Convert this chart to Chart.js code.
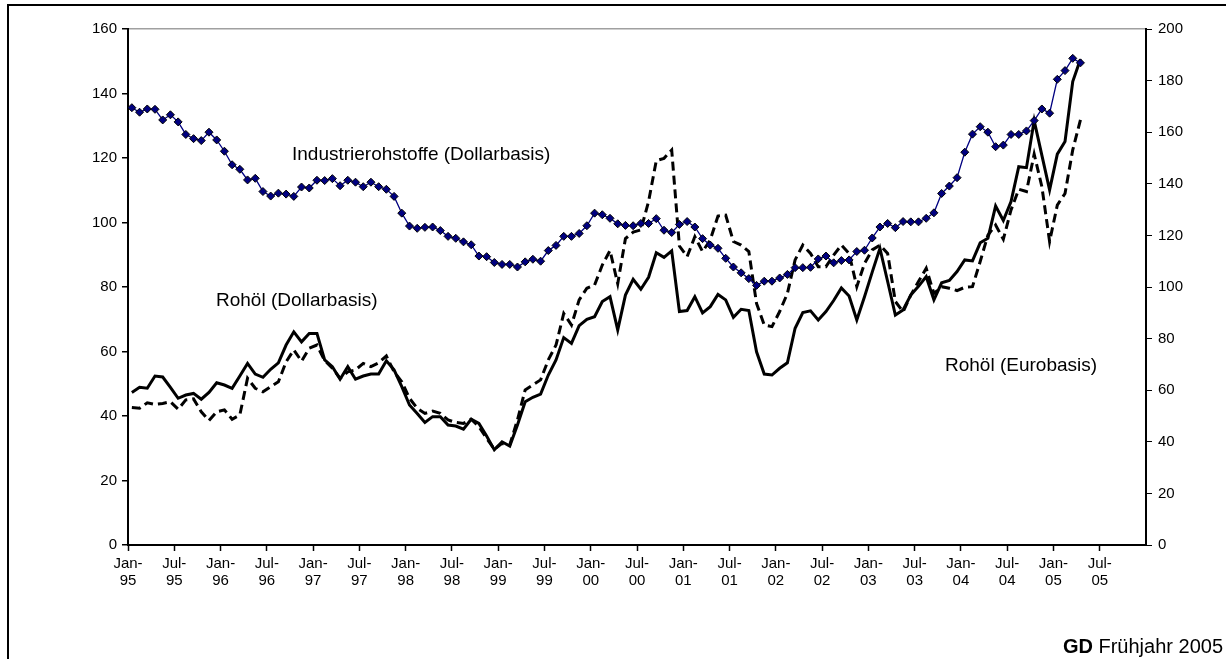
<!DOCTYPE html>
<html>
<head>
<meta charset="utf-8">
<script src="https://cdn.jsdelivr.net/npm/chart.js@4.4.1/dist/chart.umd.min.js"></script>
<style>
    html, body { margin: 0; padding: 0; background: #fff; overflow: hidden; }
    #wrap { position: relative; width: 1226px; height: 659px; }
    #frame {
        position: absolute; left: 7px; top: 4px; width: 1300px; height: 800px;
        border-top: 2px solid #000; border-left: 2px solid #000; pointer-events: none;
    }
    canvas { position: absolute; left: 0; top: 0; }
</style>
</head>
<body>
<div id="wrap">
    <canvas id="chart" width="1226" height="659"></canvas>
    <div id="frame"></div>
</div>
<script>
// Monthly values Jan-95 .. Apr-05 (index, left axis units)
const industrie = [
    135.6, 134.2, 135.2, 135.1, 131.8, 133.4, 131.2, 127.3, 126.0, 125.4, 128.0, 125.6,
    122.1, 117.9, 116.5, 113.2, 113.7, 109.6, 108.2, 109.1, 108.8, 108.1, 111.0, 110.7,
    113.1, 113.0, 113.6, 111.4, 113.1, 112.5, 111.1, 112.5, 111.1, 110.3, 108.1, 102.9,
    98.9, 98.2, 98.5, 98.6, 97.5, 95.7, 95.1, 94.0, 93.1, 89.6, 89.4, 87.6,
    87.0, 87.0, 86.2, 87.8, 88.6, 88.0, 91.3, 92.9, 95.7, 95.7, 96.6, 99.0,
    102.9, 102.4, 101.3, 99.6, 99.1, 99.0, 99.7, 99.7, 101.2, 97.6, 96.9, 99.4,
    100.3, 98.6, 95.0, 93.0, 92.0, 88.9, 86.2, 84.4, 82.6, 80.5, 81.8, 81.8,
    82.8, 83.9, 86.0, 86.0, 86.1, 88.7, 89.6, 87.5, 88.2, 88.4, 91.0, 91.4,
    95.2, 98.6, 99.7, 98.4, 100.3, 100.2, 100.2, 101.3, 103.0, 109.0, 111.3, 113.9,
    121.8, 127.4, 129.7, 128.0, 123.5, 124.0, 127.3, 127.3, 128.4, 131.6, 135.2, 133.9,
    144.4, 147.1, 150.9, 149.5
];
const oilDollar = [
    47.3, 48.9, 48.6, 52.4, 52.1, 48.9, 45.5, 46.5, 47.0, 45.2, 47.3, 50.3,
    49.6, 48.6, 52.4, 56.3, 53.0, 52.0, 54.5, 56.5, 62.0, 66.1, 63.0, 65.6,
    65.6, 57.4, 55.3, 51.4, 55.3, 51.4, 52.4, 53.0, 53.0, 57.1, 54.3, 49.1,
    43.4, 40.8, 38.0, 39.8, 39.8, 37.2, 36.9, 35.9, 39.0, 37.7, 33.8, 29.5,
    32.0, 30.7, 37.2, 44.4, 45.8, 46.8, 52.7, 57.4, 64.3, 62.5, 68.0, 70.0,
    70.8, 75.5, 77.0, 66.7, 77.5, 82.4, 79.3, 83.0, 90.6, 89.2, 91.2, 72.4,
    72.7, 77.0, 72.0, 73.9, 77.7, 76.0, 70.6, 73.1, 72.7, 59.9, 53.0, 52.7,
    54.8, 56.5, 67.2, 72.1, 72.6, 69.8, 72.4, 75.8, 79.7, 77.2, 69.8, 77.0,
    84.6, 92.0, 81.7, 71.3, 72.9, 77.5, 80.2, 83.2, 76.0, 81.3, 82.0, 84.8,
    88.4, 88.1, 93.7, 95.1, 105.1, 100.6, 106.5, 117.3, 117.0, 131.6, 120.8, 110.1,
    121.2, 125.1, 143.7, 150.6
];
const oilEuro = [
    42.6, 42.4, 44.1, 43.6, 43.9, 44.4, 42.1, 45.0, 45.3, 41.3, 38.6, 41.3,
    41.9, 39.0, 40.3, 51.7, 48.6, 47.5, 49.1, 50.6, 56.8, 60.5, 57.0, 61.0,
    62.0, 57.2, 54.8, 51.7, 53.7, 54.3, 56.3, 55.3, 56.5, 58.6, 53.7, 50.6,
    45.5, 42.4, 40.8, 41.5, 40.8, 38.8, 38.0, 37.7, 39.0, 36.7, 33.1, 29.7,
    31.5, 31.0, 38.8, 48.1, 49.6, 51.2, 57.4, 62.0, 71.8, 68.2, 76.0, 79.6,
    80.6, 86.8, 91.3, 81.0, 95.0, 97.0, 97.7, 106.5, 119.2, 119.9, 122.5, 92.7,
    89.4, 95.6, 91.0, 94.6, 102.0, 102.3, 94.1, 93.0, 91.0, 74.9, 68.2, 67.7,
    72.4, 78.0, 88.4, 93.0, 90.4, 86.3, 86.3, 89.9, 93.0, 90.4, 80.1, 87.3,
    91.5, 93.0, 90.4, 75.5, 72.3, 77.5, 81.7, 85.8, 78.0, 80.1, 79.6, 78.9,
    79.9, 80.1, 87.9, 96.1, 99.2, 94.8, 103.9, 110.3, 109.6, 121.2, 111.1, 94.1,
    105.4, 109.0, 122.5, 131.8
];
const xTickLabels = [
    'Jan-95', 'Jul-95', 'Jan-96', 'Jul-96', 'Jan-97', 'Jul-97', 'Jan-98', 'Jul-98',
    'Jan-99', 'Jul-99', 'Jan-00', 'Jul-00', 'Jan-01', 'Jul-01', 'Jan-02', 'Jul-02',
    'Jan-03', 'Jul-03', 'Jan-04', 'Jul-04', 'Jan-05', 'Jul-05'
];
const seriesLabels = ['Industrierohstoffe (Dollarbasis)', 'Rohöl (Dollarbasis)', 'Rohöl (Eurobasis)'];

const FONT = "'Liberation Sans', Arial, sans-serif";

// months sit in the middle of their slot, ticks on the slot borders
const toPoints = (arr) => arr.map((v, i) => ({ x: i + 0.5, y: v }));

// Free-floating series labels and the footer
const textPlugin = {
    id: 'texts',
    afterDraw(chart) {
        const ctx = chart.ctx;
        ctx.save();
        ctx.fillStyle = '#000';
        ctx.textBaseline = 'middle';
        ctx.textAlign = 'left';
        ctx.font = '19px ' + FONT;
        ctx.fillText(seriesLabels[0], 292, 155);
        ctx.fillText(seriesLabels[1], 216, 301);
        ctx.fillText(seriesLabels[2], 945, 366);

        ctx.font = '20px ' + FONT;
        const rest = ' Frühjahr 2005';
        const wRest = ctx.measureText(rest).width;
        ctx.font = 'bold 20px ' + FONT;
        const wGd = ctx.measureText('GD').width;
        const right = 1223;
        ctx.fillText('GD', right - wRest - wGd, 647);
        ctx.font = '20px ' + FONT;
        ctx.fillText(rest, right - wRest, 647);
        ctx.restore();
    }
};

new Chart(document.getElementById('chart'), {
    type: 'line',
    data: {
        datasets: [
            {
                label: seriesLabels[0],
                data: toPoints(industrie),
                borderColor: '#000080',
                borderWidth: 1.3,
                pointStyle: 'rectRot',
                pointRadius: 4,
                pointBackgroundColor: '#000080',
                pointBorderColor: '#000',
                pointBorderWidth: 1,
                tension: 0,
                yAxisID: 'y'
            },
            {
                label: seriesLabels[1],
                data: toPoints(oilDollar),
                borderColor: '#000',
                borderWidth: 3,
                pointRadius: 0,
                tension: 0,
                yAxisID: 'y'
            },
            {
                label: seriesLabels[2],
                data: toPoints(oilEuro),
                borderColor: '#000',
                borderWidth: 3,
                borderDash: [9, 5],
                pointRadius: 0,
                tension: 0,
                yAxisID: 'y'
            }
        ]
    },
    options: {
        responsive: false,
        animation: false,
        devicePixelRatio: 1,
        layout: { padding: { top: 29, left: 0, right: 0, bottom: 0 } },
        plugins: {
            legend: { display: false },
            tooltip: { enabled: false }
        },
        scales: {
            x: {
                type: 'linear',
                min: 0,
                max: 132,
                afterFit: (s) => { s.height = 114; },
                border: { color: '#000', width: 2 },
                grid: { drawOnChartArea: false, tickLength: 6, tickColor: '#000', tickWidth: 1.5 },
                ticks: {
                    stepSize: 6,
                    autoSkip: false,
                    maxRotation: 0,
                    padding: 4,
                    color: '#000',
                    font: { family: FONT, size: 15, lineHeight: 1.15 },
                    callback: (v) => {
                        const l = xTickLabels[v / 6];
                        return l ? [l.slice(0, 4), l.slice(4)] : null;
                    }
                }
            },
            y: {
                position: 'left',
                min: 0,
                max: 160,
                afterFit: (s) => { s.width = 128; },
                border: { color: '#000', width: 2 },
                grid: {
                    color: (c) => c.tick && c.tick.value === 160 ? '#a0a0a0' : 'rgba(0,0,0,0)',
                    lineWidth: 1.5,
                    tickLength: 6,
                    tickColor: '#000'
                },
                ticks: {
                    stepSize: 20,
                    padding: 5,
                    color: '#000',
                    font: { family: FONT, size: 15 }
                }
            },
            y1: {
                position: 'right',
                min: 0,
                max: 200,
                afterFit: (s) => { s.width = 80; },
                border: { color: '#000', width: 2 },
                grid: { drawOnChartArea: false, tickLength: 6, tickColor: '#000' },
                ticks: {
                    stepSize: 20,
                    padding: 6,
                    color: '#000',
                    font: { family: FONT, size: 15 }
                }
            }
        }
    },
    plugins: [textPlugin]
});
</script>
</body>
</html>
